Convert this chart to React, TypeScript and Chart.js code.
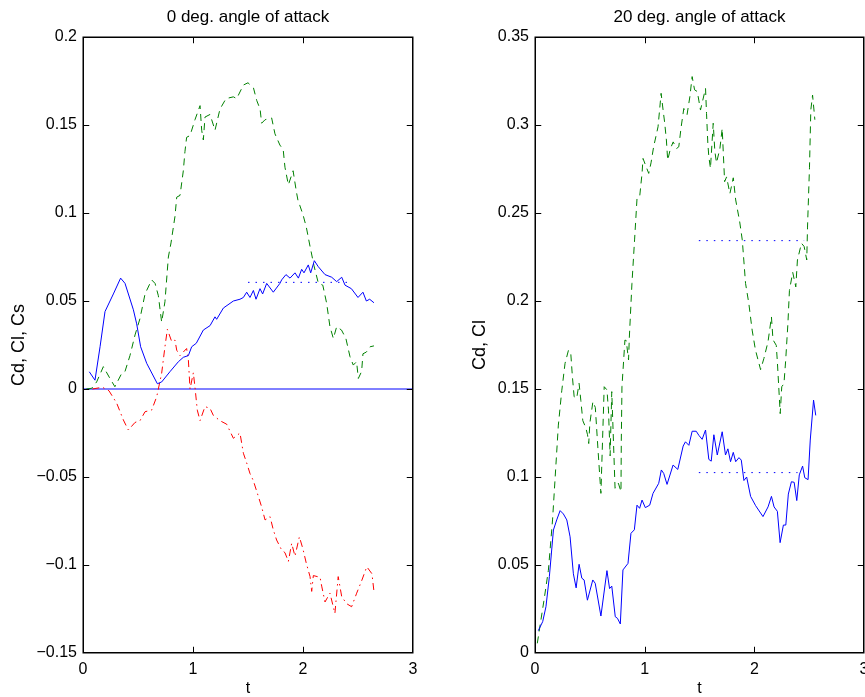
import React, { useEffect, useRef } from "react";
import { Chart, registerables } from "chart.js";

Chart.register(...registerables);

// ---------- Left panel: 0 deg. angle of attack ----------
const leftTitle = "0 deg. angle of attack";
const leftYLabel = "Cd, Cl, Cs";
const leftYTicks = [-0.15, -0.1, -0.05, 0, 0.05, 0.1, 0.15, 0.2];
const xTicks = [0, 1, 2, 3];

const leftCdT = [0.057, 0.109, 0.155, 0.2, 0.276, 0.342, 0.382, 0.458, 0.488, 0.524, 0.579, 0.676, 0.715, 0.79, 0.867, 0.912, 0.958, 0.988, 1.03, 1.094, 1.155, 1.2, 1.215, 1.276, 1.367, 1.427, 1.458, 1.488, 1.518, 1.549, 1.573, 1.609, 1.633, 1.67, 1.73, 1.79, 1.806, 1.845, 1.882, 1.927, 1.958, 1.988, 2.009, 2.048, 2.07, 2.103, 2.139, 2.2, 2.261, 2.306, 2.352, 2.382, 2.44, 2.5, 2.545, 2.576, 2.606, 2.645];
const leftCd = [0.0098, 0.005, 0.024, 0.044, 0.054, 0.063, 0.06, 0.045, 0.037, 0.024, 0.0146, 0.003, 0.004, 0.0098, 0.0155, 0.018, 0.019, 0.024, 0.026, 0.0335, 0.036, 0.041, 0.0396, 0.046, 0.05, 0.051, 0.052, 0.055, 0.052, 0.056, 0.051, 0.057, 0.054, 0.06, 0.055, 0.06, 0.062, 0.065, 0.063, 0.066, 0.063, 0.068, 0.066, 0.0705, 0.066, 0.0729, 0.0695, 0.065, 0.0635, 0.061, 0.0635, 0.059, 0.057, 0.052, 0.055, 0.05, 0.051, 0.049];

const leftClT = [0.03, 0.079, 0.124, 0.185, 0.245, 0.29, 0.352, 0.382, 0.427, 0.473, 0.518, 0.564, 0.624, 0.655, 0.685, 0.715, 0.745, 0.776, 0.8, 0.836, 0.852, 0.882, 0.912, 0.927, 0.942, 0.973, 1.018, 1.064, 1.079, 1.094, 1.109, 1.155, 1.2, 1.245, 1.3, 1.367, 1.397, 1.458, 1.5, 1.55, 1.579, 1.61, 1.624, 1.655, 1.715, 1.745, 1.79, 1.82, 1.836, 1.867, 1.91, 1.94, 1.958, 1.97, 2.0, 2.03, 2.064, 2.1, 2.14, 2.18, 2.215, 2.245, 2.276, 2.306, 2.35, 2.39, 2.427, 2.457, 2.487, 2.503, 2.533, 2.545, 2.576, 2.61, 2.645];
const leftCl = [0.0, 0.0004, 0.004, 0.0127, 0.006, 0.0013, 0.0089, 0.01, 0.019, 0.0307, 0.04, 0.054, 0.062, 0.06, 0.053, 0.038, 0.0496, 0.075, 0.083, 0.098, 0.109, 0.11, 0.124, 0.135, 0.143, 0.144, 0.153, 0.161, 0.147, 0.1415, 0.1545, 0.156, 0.147, 0.159, 0.165, 0.166, 0.165, 0.1727, 0.174, 0.171, 0.164, 0.159, 0.151, 0.153, 0.154, 0.145, 0.1386, 0.136, 0.126, 0.116, 0.124, 0.112, 0.106, 0.1045, 0.099, 0.092, 0.081, 0.07, 0.06, 0.059, 0.0487, 0.0354, 0.0287, 0.0354, 0.0335, 0.0287, 0.0184, 0.0136, 0.0155, 0.006, 0.01, 0.02, 0.021, 0.024, 0.0245];

const leftCsT = [0.085, 0.176, 0.236, 0.306, 0.367, 0.412, 0.473, 0.518, 0.564, 0.624, 0.67, 0.715, 0.745, 0.767, 0.806, 0.836, 0.852, 0.882, 0.942, 0.958, 0.973, 1.003, 1.018, 1.039, 1.064, 1.109, 1.155, 1.185, 1.245, 1.306, 1.367, 1.427, 1.458, 1.488, 1.518, 1.548, 1.594, 1.624, 1.655, 1.7, 1.73, 1.76, 1.806, 1.836, 1.867, 1.897, 1.927, 1.967, 2.0, 2.03, 2.064, 2.079, 2.094, 2.155, 2.17, 2.2, 2.245, 2.29, 2.32, 2.352, 2.397, 2.442, 2.488, 2.533, 2.58, 2.627, 2.645];
const leftCs = [0.0, 0.001, -0.001, -0.008, -0.0176, -0.0233, -0.019, -0.018, -0.0129, -0.012, -0.0044, 0.0089, 0.024, 0.0339, 0.027, 0.0278, 0.022, 0.019, 0.023, 0.0164, 0.0, 0.0092, 0.001, -0.012, -0.018, -0.01, -0.011, -0.015, -0.018, -0.02, -0.028, -0.025, -0.0365, -0.042, -0.048, -0.052, -0.061, -0.067, -0.0744, -0.0725, -0.08, -0.0858, -0.0915, -0.093, -0.098, -0.0877, -0.095, -0.084, -0.091, -0.099, -0.1066, -0.115, -0.106, -0.107, -0.112, -0.121, -0.116, -0.1275, -0.1066, -0.118, -0.122, -0.1237, -0.116, -0.109, -0.101, -0.105, -0.115];

const leftZeroT = [0, 3];
const leftZero = [0, 0];
const leftMeanT = [1.5, 2.44];
const leftMeanCd = [0.0606, 0.0606];

// ---------- Right panel: 20 deg. angle of attack ----------
const rightTitle = "20 deg. angle of attack";
const rightYLabel = "Cd, Cl";
const rightYTicks = [0, 0.05, 0.1, 0.15, 0.2, 0.25, 0.3, 0.35];

const rightCdT = [0.03, 0.07, 0.1, 0.131, 0.168, 0.198, 0.229, 0.259, 0.29, 0.32, 0.35, 0.375, 0.402, 0.427, 0.448, 0.478, 0.527, 0.549, 0.601, 0.656, 0.68, 0.7, 0.732, 0.752, 0.778, 0.802, 0.848, 0.875, 0.906, 0.93, 0.954, 0.976, 1.006, 1.046, 1.076, 1.128, 1.152, 1.174, 1.204, 1.259, 1.302, 1.351, 1.372, 1.403, 1.433, 1.47, 1.494, 1.524, 1.555, 1.585, 1.607, 1.631, 1.662, 1.707, 1.737, 1.759, 1.783, 1.808, 1.83, 1.86, 1.881, 1.905, 1.93, 1.966, 2.012, 2.079, 2.125, 2.156, 2.18, 2.21, 2.235, 2.265, 2.287, 2.31, 2.338, 2.363, 2.387, 2.41, 2.44, 2.46, 2.49, 2.51, 2.54, 2.56];
const rightCd = [0.0127, 0.0178, 0.0263, 0.0434, 0.0699, 0.0756, 0.0809, 0.079, 0.0756, 0.066, 0.045, 0.037, 0.0504, 0.0425, 0.0415, 0.03, 0.0415, 0.0396, 0.021, 0.0468, 0.0366, 0.038, 0.0206, 0.0197, 0.0165, 0.0472, 0.0509, 0.068, 0.07, 0.084, 0.0822, 0.0869, 0.0826, 0.084, 0.0907, 0.0964, 0.104, 0.102, 0.0958, 0.1068, 0.1043, 0.1176, 0.12, 0.118, 0.126, 0.126, 0.1237, 0.1214, 0.1267, 0.11, 0.109, 0.124, 0.1125, 0.1257, 0.1125, 0.116, 0.1087, 0.114, 0.1087, 0.111, 0.1096, 0.098, 0.1, 0.089, 0.0837, 0.0775, 0.083, 0.089, 0.083, 0.0805, 0.0627, 0.0727, 0.0727, 0.0903, 0.0973, 0.097, 0.0866, 0.1012, 0.1062, 0.0996, 0.0985, 0.121, 0.1437, 0.135];

const rightClT = [0.021, 0.082, 0.122, 0.16, 0.213, 0.244, 0.274, 0.305, 0.326, 0.341, 0.357, 0.38, 0.402, 0.418, 0.436, 0.463, 0.479, 0.49, 0.5, 0.528, 0.55, 0.575, 0.601, 0.631, 0.656, 0.67, 0.685, 0.7, 0.73, 0.76, 0.784, 0.787, 0.793, 0.82, 0.832, 0.853, 0.86, 0.884, 0.908, 0.93, 0.954, 0.976, 0.985, 1.006, 1.037, 1.058, 1.082, 1.122, 1.15, 1.168, 1.183, 1.198, 1.21, 1.235, 1.26, 1.29, 1.311, 1.333, 1.357, 1.387, 1.412, 1.433, 1.455, 1.48, 1.509, 1.524, 1.555, 1.564, 1.576, 1.585, 1.6, 1.625, 1.64, 1.655, 1.686, 1.707, 1.729, 1.747, 1.777, 1.808, 1.83, 1.866, 1.89, 1.92, 1.95, 1.98, 2.01, 2.057, 2.087, 2.125, 2.156, 2.17, 2.2, 2.21, 2.236, 2.25, 2.27, 2.285, 2.306, 2.32, 2.35, 2.378, 2.393, 2.43, 2.454, 2.478, 2.485, 2.503, 2.515, 2.531, 2.552];
const rightCl = [0.0055, 0.03, 0.047, 0.0756, 0.1295, 0.149, 0.1646, 0.172, 0.1705, 0.157, 0.1456, 0.1447, 0.1532, 0.1435, 0.132, 0.128, 0.124, 0.119, 0.1305, 0.1428, 0.1395, 0.115, 0.0907, 0.1513, 0.1495, 0.138, 0.112, 0.1485, 0.0936, 0.0965, 0.0917, 0.121, 0.1513, 0.1778, 0.1775, 0.1665, 0.179, 0.21, 0.2347, 0.258, 0.259, 0.2725, 0.281, 0.2775, 0.2725, 0.2785, 0.2877, 0.299, 0.318, 0.3085, 0.301, 0.2915, 0.28, 0.2866, 0.2904, 0.2866, 0.2876, 0.299, 0.3094, 0.306, 0.316, 0.3275, 0.32, 0.319, 0.3085, 0.3125, 0.3208, 0.3066, 0.2896, 0.282, 0.2754, 0.301, 0.285, 0.2785, 0.2866, 0.298, 0.2678, 0.2705, 0.261, 0.27, 0.2574, 0.2452, 0.2347, 0.21, 0.1985, 0.1835, 0.1722, 0.161, 0.1673, 0.1769, 0.191, 0.178, 0.1748, 0.1655, 0.136, 0.1513, 0.153, 0.1655, 0.187, 0.206, 0.2163, 0.208, 0.2233, 0.2328, 0.231, 0.2233, 0.242, 0.276, 0.3085, 0.317, 0.303];

const rightMeanCdT = [1.494, 2.394];
const rightMeanCd = [0.1025, 0.1025];
const rightMeanClT = [1.494, 2.454];
const rightMeanCl = [0.2343, 0.2343];

// ---------- helpers ----------
const FONT = "'Liberation Sans', Arial, Helvetica, sans-serif";
const BLUE = "#0000ff";
const GREEN = "#008000";
const RED = "#ff0000";

const zip = (t: number[], v: number[]) => t.map((x, i) => ({ x, y: v[i] }));

const fmt = (v: number) => {
  const r = Math.round(v * 1000) / 1000;
  const s = String(Math.abs(r));
  return r < 0 ? "\u2212" + s : s;
};

const line = (t: number[], v: number[], color: string, dash: number[]) => ({
  data: zip(t, v),
  borderColor: color,
  backgroundColor: color,
  borderWidth: 1,
  borderDash: dash,
  pointRadius: 0,
  pointHoverRadius: 0,
  tension: 0,
  fill: false,
});

const boxPlugin = {
  id: "matlabBox",
  afterDraw(chart: any) {
    const { ctx, chartArea } = chart;
    const { left, right, top, bottom } = chartArea;
    const xs = chart.scales.x;
    const ys = chart.scales.y;
    const L = Math.round(left) + 0.25;
    const R = Math.round(right) - 0.25;
    const T = Math.round(top) + 0.25;
    const B = Math.round(bottom) - 0.25;
    ctx.save();
    ctx.strokeStyle = "#000";
    ctx.lineWidth = 1.5;
    ctx.setLineDash([]);
    ctx.strokeRect(L, T, R - L, B - T);
    const tl = 6;
    ctx.lineWidth = 1;
    ctx.beginPath();
    xs.ticks.forEach((tk: any) => {
      const px = Math.round(xs.getPixelForValue(tk.value)) + 0.5;
      if (px <= L + 1 || px >= R - 1) return;
      ctx.moveTo(px, B);
      ctx.lineTo(px, B - tl);
      ctx.moveTo(px, T);
      ctx.lineTo(px, T + tl);
    });
    ys.ticks.forEach((tk: any) => {
      const py = Math.round(ys.getPixelForValue(tk.value)) + 0.5;
      if (py <= T + 1 || py >= B - 1) return;
      ctx.moveTo(L, py);
      ctx.lineTo(L + tl, py);
      ctx.moveTo(R, py);
      ctx.lineTo(R - tl, py);
    });
    ctx.stroke();
    ctx.restore();
  },
};

type PanelProps = {
  width: number;
  height: number;
  chartLeft: number;
  chartRight: number;
  title: string;
  yLabel: string;
  yLabelPad: number;
  yMin: number;
  yMax: number;
  yTicks: number[];
  datasets: any[];
};

function Panel(p: PanelProps) {
  const ref = useRef<HTMLCanvasElement | null>(null);
  useEffect(() => {
    if (!ref.current) return;
    const chart = new Chart(ref.current, {
      type: "line",
      data: { datasets: p.datasets },
      plugins: [boxPlugin],
      options: {
        animation: false,
        responsive: false,
        maintainAspectRatio: false,
        events: [],
        layout: { padding: { left: 0, right: p.width - p.chartRight, top: 0, bottom: 0 } },
        plugins: {
          legend: { display: false },
          tooltip: { enabled: false },
          title: {
            display: true,
            text: p.title,
            fullSize: false,
            color: "#000",
            font: { family: FONT, size: 17, weight: "normal", lineHeight: 1.2 },
            padding: { top: 7.5, bottom: 9.1 },
          },
        },
        scales: {
          x: {
            type: "linear",
            min: 0,
            max: 3,
            afterBuildTicks: (s: any) => {
              s.ticks = xTicks.map((v) => ({ value: v }));
            },
            afterFit: (s: any) => {
              s.height = 44;
              s.paddingLeft = 0;
              s.paddingRight = 0;
            },
            grid: { display: false, drawTicks: false, tickLength: 0 },
            border: { display: false },
            ticks: {
              color: "#000",
              padding: 7,
              maxRotation: 0,
              autoSkip: false,
              font: { family: FONT, size: 16, lineHeight: 1.2 },
              callback: (v: any) => fmt(Number(v)),
            },
            title: {
              display: true,
              text: "t",
              color: "#000",
              font: { family: FONT, size: 16, lineHeight: 1 },
              padding: { top: 0, bottom: 0 },
            },
          },
          y: {
            type: "linear",
            min: p.yMin,
            max: p.yMax,
            afterBuildTicks: (s: any) => {
              s.ticks = p.yTicks.map((v) => ({ value: v }));
            },
            afterFit: (s: any) => {
              s.width = p.chartLeft;
              s.paddingTop = 0;
              s.paddingBottom = 0;
            },
            grid: { display: false, drawTicks: false, tickLength: 0 },
            border: { display: false },
            ticks: {
              color: "#000",
              padding: 6,
              autoSkip: false,
              font: { family: FONT, size: 16, lineHeight: 1.2 },
              callback: (v: any) => fmt(Number(v)),
            },
            title: {
              display: true,
              text: p.yLabel,
              color: "#000",
              font: { family: FONT, size: 18, lineHeight: 1 },
              padding: { top: p.yLabelPad, bottom: 0 },
            },
          },
        },
      } as any,
    });
    return () => chart.destroy();
  }, []);
  return <canvas ref={ref} width={p.width} height={p.height} style={{ display: "block", width: p.width, height: p.height }} />;
}

export default function App() {
  const leftSets = [
    line(leftCdT, leftCd, BLUE, []),
    line(leftClT, leftCl, GREEN, [7, 5]),
    line(leftCsT, leftCs, RED, [7, 4, 1.5, 4]),
    line(leftZeroT, leftZero, BLUE, []),
    line(leftMeanT, leftMeanCd, BLUE, [1.5, 6]),
  ];
  const rightSets = [
    line(rightCdT, rightCd, BLUE, []),
    line(rightClT, rightCl, GREEN, [7, 5]),
    line(rightMeanCdT, rightMeanCd, BLUE, [1.5, 6]),
    line(rightMeanClT, rightMeanCl, BLUE, [1.5, 6]),
  ];
  return (
    <div style={{ position: "absolute", left: 0, top: 0, width: 865, height: 697, background: "#fff", overflow: "hidden" }}>
      <div style={{ position: "absolute", left: 0, top: 0 }}>
        <Panel
          width={432}
          height={697}
          chartLeft={83}
          chartRight={413}
          title={leftTitle}
          yLabel={leftYLabel}
          yLabelPad={10}
          yMin={-0.15}
          yMax={0.2}
          yTicks={leftYTicks}
          datasets={leftSets}
        />
      </div>
      <div style={{ position: "absolute", left: 432, top: 0 }}>
        <Panel
          width={433}
          height={697}
          chartLeft={103}
          chartRight={432}
          title={rightTitle}
          yLabel={rightYLabel}
          yLabelPad={39}
          yMin={0}
          yMax={0.35}
          yTicks={rightYTicks}
          datasets={rightSets}
        />
      </div>
    </div>
  );
}
